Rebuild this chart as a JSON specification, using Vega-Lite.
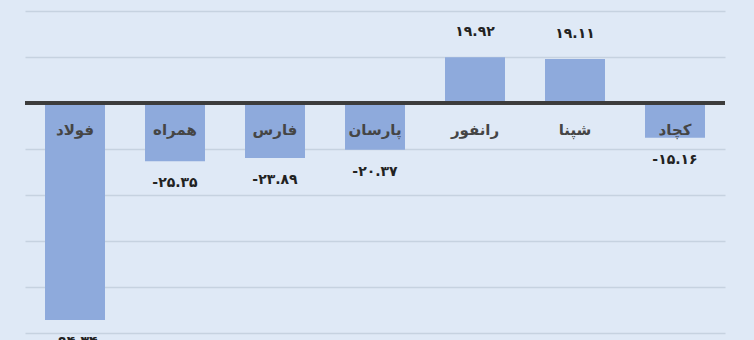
{
  "$schema": "https://vega.github.io/schema/vega-lite/v6.json",
  "width": 700,
  "height": 340,
  "autosize": "none",
  "padding": {"left": 25, "right": 29, "top": 0, "bottom": 0},
  "background": "#dfe9f6",
  "config": {
    "view": {"stroke": null},
    "locale": {
      "number": {
        "decimal": ".",
        "thousands": ",",
        "grouping": [3],
        "currency": ["", ""],
        "minus": "-",
        "numerals": ["۰", "۱", "۲", "۳", "۴", "۵", "۶", "۷", "۸", "۹"]
      }
    },
    "text": {"font": "DejaVu Sans"}
  },
  "data": {
    "values": [
      {"name": "فولاد", "value": -94.34},
      {"name": "همراه", "value": -25.35},
      {"name": "فارس", "value": -23.89},
      {"name": "پارسان", "value": -20.37},
      {"name": "رانفور", "value": 19.92},
      {"name": "شپنا", "value": 19.11},
      {"name": "کچاد", "value": -15.16}
    ]
  },
  "encoding": {
    "x": {
      "field": "name",
      "type": "nominal",
      "sort": null,
      "scale": {"paddingInner": 0.4, "paddingOuter": 0.2},
      "axis": null
    }
  },
  "layer": [
    {
      "mark": {"type": "bar", "color": "#8eaadc", "clip": true},
      "encoding": {
        "y": {
          "field": "value",
          "type": "quantitative",
          "scale": {"domain": [-103.04, 44.78], "nice": false, "zero": false},
          "axis": {
            "values": [-100, -80, -60, -40, -20, 20, 40],
            "grid": true,
            "gridColor": "#c6d2e0",
            "gridWidth": 1.3,
            "domain": false,
            "ticks": false,
            "labels": false,
            "title": null
          }
        }
      }
    },
    {
      "mark": {"type": "rule", "color": "#3c3c3c", "strokeWidth": 3},
      "encoding": {"y": {"datum": 0, "type": "quantitative"}, "x": null}
    },
    {
      "mark": {"type": "text", "fontSize": 15, "fontWeight": "bold", "color": "#454545", "baseline": "middle"},
      "encoding": {
        "y": {"datum": -11.7, "type": "quantitative"},
        "text": {"field": "name"}
      }
    },
    {
      "transform": [{"filter": "datum.value < 0"}],
      "mark": {"type": "text", "fontSize": 14, "fontWeight": "bold", "color": "#222222", "baseline": "middle", "dy": 22},
      "encoding": {
        "y": {"field": "value", "type": "quantitative"},
        "text": {"field": "value", "type": "quantitative", "format": ".2f"}
      }
    },
    {
      "transform": [{"filter": "datum.value >= 0"}],
      "mark": {"type": "text", "fontSize": 14, "fontWeight": "bold", "color": "#222222", "baseline": "middle", "dy": -25},
      "encoding": {
        "y": {"field": "value", "type": "quantitative"},
        "text": {"field": "value", "type": "quantitative", "format": ".2f"}
      }
    }
  ]
}
